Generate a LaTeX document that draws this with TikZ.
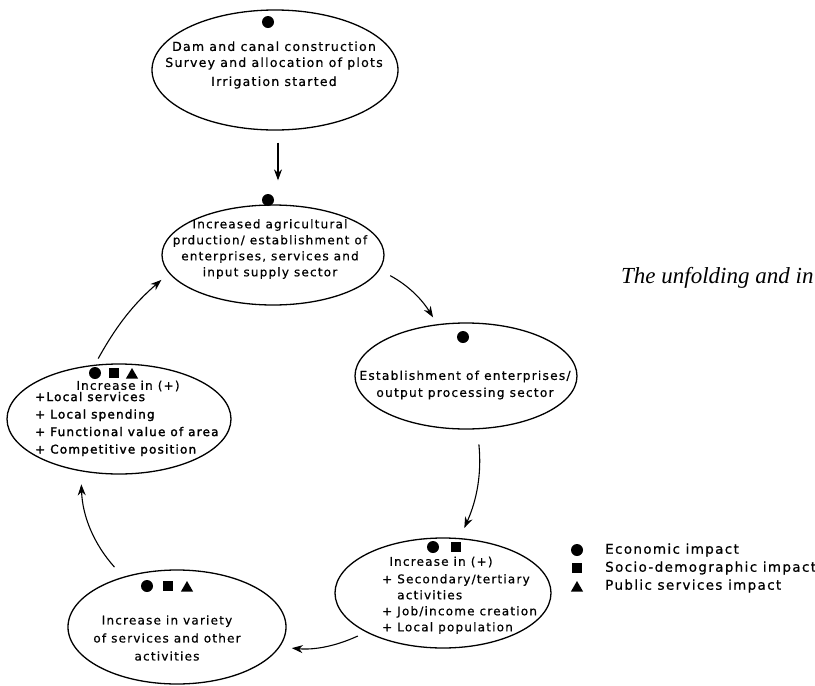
\documentclass[tikz,border=0pt]{standalone}
\usepackage{fontspec}
\usetikzlibrary{shapes.geometric,arrows.meta}
\newfontfamily\plotfont[LetterSpace=10,FakeBold=0.6]{DejaVu Sans}
\newfontfamily\plotboldfont[LetterSpace=10,FakeBold=2]{DejaVu Sans}
\newfontfamily\capfont{Liberation Serif}

\tikzset{
  ell/.style={draw, ellipse, line width=1.3pt, inner sep=0pt},
  arr/.style={-{Stealth[length=11pt,width=8pt]}, line width=1.1pt},
  txt/.style={inner sep=0pt, align=center, font=\plotfont\fontsize{12}{14}\selectfont},
  lst/.style={inner sep=0pt, align=left, anchor=west, font=\plotfont\fontsize{12}{14}\selectfont},
  dotsym/.style={circle, fill, inner sep=0pt, minimum size=12pt},
  sqsym/.style={rectangle, fill, inner sep=0pt, minimum size=10pt},
  trisym/.style={regular polygon, regular polygon sides=3, fill, inner sep=0pt, minimum size=14pt},
  lgd/.style={inner sep=0pt, anchor=west, font=\plotfont\fontsize{13.5}{14}\selectfont}
}

\begin{document}
\begin{tikzpicture}[x=1pt,y=1pt]
  \useasboundingbox (0,0) rectangle (815,-686);

  % ellipses of the impact cycle
  \node[ell, minimum width=246pt, minimum height=120pt] (e1) at (275,-70) {};
  \node[ell, minimum width=222pt, minimum height=100pt] (e2) at (273,-255) {};
  \node[ell, minimum width=222pt, minimum height=106pt] (e3) at (466,-376) {};
  \node[ell, minimum width=216pt, minimum height=110pt] (e4) at (443,-593) {};
  \node[ell, minimum width=218pt, minimum height=114pt] (e5) at (177,-627) {};
  \node[ell, minimum width=224pt, minimum height=110pt] (e6) at (119,-419) {};

  % texts
  \node[txt, font=\plotfont\fontsize{12.5}{16}\selectfont] (t1) at (274,-65)
    {Dam and canal construction\\Survey and allocation of plots\\[3pt]Irrigation started};
  \node[txt, font=\plotfont\fontsize{12}{16}\selectfont] (t2) at (270,-249)
    {Increased agricultural\\prduction/ establishment of\\enterprises, services and\\input supply sector};
  \node[txt, font=\plotfont\fontsize{12.2}{17}\selectfont] (t3) at (465,-385)
    {Establishment of enterprises/\\output processing sector};
  \node[txt] (t4h) at (441,-562) {Increase in (+)};
  \node[lst, font=\plotfont\fontsize{12}{16}\selectfont] (t4) at (382,-604)
    {+ Secondary/tertiary\\\hphantom{+ }activities\\+ Job/income creation\\+ Local population};
  \node[txt, font=\plotfont\fontsize{12}{18}\selectfont] (t5) at (167,-638)
    {Increase in variety\\of services and other\\activities};
  \node[txt] (t6h) at (128,-386) {Increase in (+)};
  \node[lst, font=\plotboldfont\fontsize{12}{17.5}\selectfont] (t6) at (35,-424)
    {+Local services\\+ Local spending\\+ Functional value of area\\+ Competitive position};

  % impact symbols
  \node[dotsym] (s1a) at (268,-22) {};
  \node[dotsym] (s2a) at (268,-200) {};
  \node[dotsym] (s3a) at (463,-337) {};
  \node[dotsym] (s4a) at (433,-547) {};
  \node[sqsym]  (s4b) at (456,-547) {};
  \node[dotsym] (s5a) at (147,-586) {};
  \node[sqsym]  (s5b) at (168,-586) {};
  \node[trisym] (s5c) at (187,-588) {};
  \node[dotsym] (s6a) at (95,-373) {};
  \node[sqsym]  (s6b) at (114,-373) {};
  \node[trisym] (s6c) at (132,-375) {};

  % arrows
  \draw[arr, shorten <=12pt, shorten >=24pt] ([xshift=3pt]e1.south) -- ([xshift=3pt]e1.south |- e2.north);
  \draw[arr, shorten <=12pt, shorten >=8pt] (e2.-8) to[bend left=15] (e3.119);
  \draw[arr, shorten <=15pt, shorten >=11pt] (e3.-78) to[bend left=15] (e4.73);
  \draw[arr, shorten <=9pt, shorten >=12pt] (e4.207) to[bend left=15] (e5.-11);
  \draw[arr, shorten <=13pt, shorten >=13pt] (e5.137) to[bend left=20] (e6.234);
  \draw[arr, shorten <=7pt, shorten >=10pt] (e6.114) to[bend left=10] (e2.190);

  % legend
  \node[dotsym] (l1) at (577,-550) {};
  \node[sqsym]  (l2) at (577,-568) {};
  \node[trisym] (l3) at (577,-588) {};
  \node[lgd] (lt1) at (605,-550) {Economic impact};
  \node[lgd] (lt2) at (605,-568) {Socio-demographic impact};
  \node[lgd] (lt3) at (605,-586) {Public services impact};

  % caption
  \node[inner sep=0pt, anchor=base west, font=\capfont\itshape\fontsize{23}{25}\selectfont] (cap) at (621,-283) {The unfolding and in};
\end{tikzpicture}
\end{document}
